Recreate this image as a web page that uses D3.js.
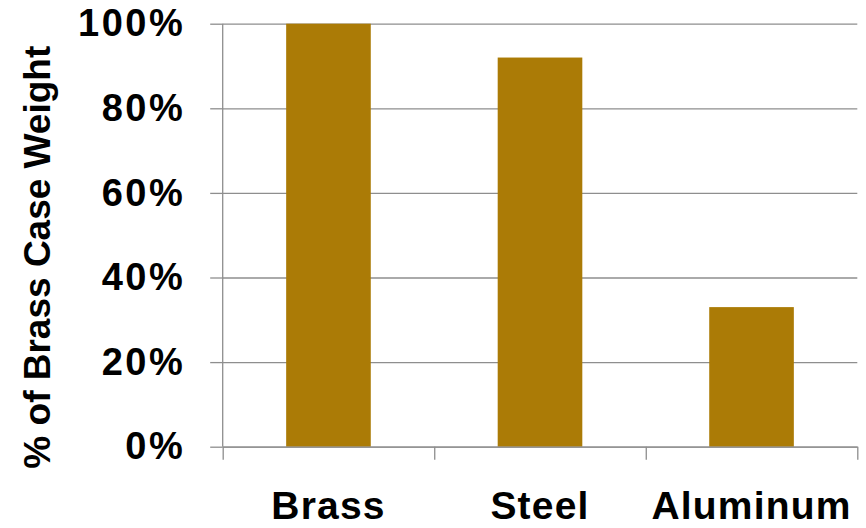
<!DOCTYPE html>
<html>
<head>
<meta charset="utf-8">
<script src="https://cdn.jsdelivr.net/npm/d3@7/dist/d3.min.js"></script>
<style>
  html, body { margin: 0; padding: 0; background: #ffffff; }
  svg { display: block; font-family: "Liberation Sans", Arial, sans-serif; }
</style>
</head>
<body>
<svg id="chart" width="866" height="528"></svg>
<script>
const categories = ["Brass", "Steel", "Aluminum"];
const values = [1.00, 0.92, 0.33];
const yTicks = [0, 0.2, 0.4, 0.6, 0.8, 1.0];
const yTitle = "% of Brass Case Weight";

const svg = d3.select("#chart");
const mLeft = 222.7, mRight = 857.3, mTop = 23.7, mBottom = 446.7;
const barColor = "#AB7B06";
const gridColor = "#8E8E8E";

const x = d3.scaleBand().domain(categories).range([mLeft, mRight])
  .paddingInner(0.6).paddingOuter(0.3);
const y = d3.scaleLinear().domain([0, 1]).range([mBottom, mTop]);

// gridlines + labels
const gy = svg.append("g").attr("transform", `translate(${mLeft},0)`)
  .call(d3.axisLeft(y).tickValues(yTicks).tickSizeInner(-(mRight - mLeft)).tickSizeOuter(0)
    .tickPadding(37.5).tickFormat(d3.format(".0%")));
gy.select(".domain").remove();
gy.selectAll(".tick line").attr("stroke", gridColor).attr("stroke-width", 1.3);
gy.selectAll(".tick text").attr("font-size", 38).attr("font-weight", "bold")
  .attr("fill", "#000").attr("letter-spacing", 2.5).attr("font-family", "'Liberation Sans', Arial, sans-serif");

// left tick marks
const gy2 = svg.append("g").attr("transform", `translate(${mLeft},0)`)
  .call(d3.axisLeft(y).tickValues(yTicks).tickSize(12.5).tickFormat(""));
gy2.select(".domain").remove();
gy2.selectAll(".tick line").attr("stroke", gridColor).attr("stroke-width", 1.3);

// bars
svg.append("g").selectAll("rect").data(categories).join("rect")
  .attr("x", d => x(d))
  .attr("y", (d, i) => y(values[i]))
  .attr("width", x.bandwidth())
  .attr("height", (d, i) => y(0) - y(values[i]))
  .attr("fill", barColor);

// y axis line
const bScale = d3.scaleLinear().domain([0, categories.length]).range([mLeft, mRight]);
svg.append("line").attr("x1", mLeft).attr("x2", mLeft).attr("y1", mTop).attr("y2", mBottom)
  .attr("stroke", gridColor).attr("stroke-width", 1.3);

// x axis with boundary ticks
const gx = svg.append("g").attr("transform", `translate(0,${mBottom})`)
  .call(d3.axisBottom(bScale).tickValues(d3.range(categories.length + 1))
    .tickSizeInner(13).tickSizeOuter(0).tickFormat(""));
gx.select(".domain").attr("stroke", gridColor).attr("stroke-width", 1.3);
gx.selectAll(".tick line").attr("stroke", gridColor).attr("stroke-width", 1.3);

// category labels
const gx2 = svg.append("g").attr("transform", `translate(0,${mBottom})`)
  .call(d3.axisBottom(x).tickSize(0).tickPadding(44.3));
gx2.select(".domain").remove();
gx2.selectAll(".tick text").attr("font-size", 39).attr("font-weight", "bold")
  .attr("fill", "#000").attr("letter-spacing", 1.2)
  .attr("font-family", "'Liberation Sans', Arial, sans-serif");

// y title
svg.append("text")
  .attr("transform", `translate(50,${(mTop + mBottom) / 2 + 22}) rotate(-90)`)
  .attr("text-anchor", "middle")
  .attr("font-size", 37).attr("font-weight", "bold").attr("fill", "#000")
  .text(yTitle);
</script>
</body>
</html>
